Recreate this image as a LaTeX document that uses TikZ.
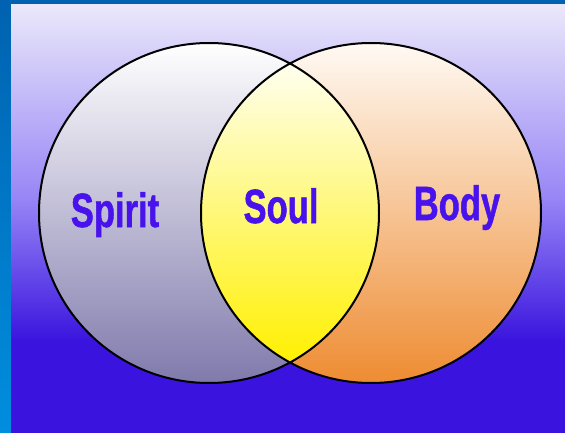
\documentclass[tikz,border=0pt]{standalone}
\usepackage{fontspec}
\setsansfont{Liberation Sans}[BoldFeatures={FakeBold=1.3}]
\usepackage{graphicx}
\usepackage{xcolor}
\usepackage{tikz}
\usetikzlibrary{positioning}
\definecolor{framedark}{RGB}{0,98,176}
\definecolor{framelight}{RGB}{0,142,222}
\definecolor{paletop}{RGB}{234,232,250}
\definecolor{midlilac}{RGB}{150,132,246}
\definecolor{deepblue}{RGB}{58,20,222}
\definecolor{spiritlow}{RGB}{128,122,172}
\definecolor{bodytop}{RGB}{255,250,244}
\definecolor{bodylow}{RGB}{238,140,50}
\definecolor{soultop}{RGB}{255,255,240}
\definecolor{soulmid}{RGB}{255,250,150}
\definecolor{soullow}{RGB}{255,240,0}
\definecolor{labelblue}{RGB}{72,18,236}

\begin{document}
\begin{tikzpicture}[x=1pt,y=-1pt,
lbl/.style={font=\sffamily\bfseries\fontsize{48}{48}\selectfont,text=labelblue,anchor=base,inner sep=0pt},
ring/.style={draw=black,line width=2pt}]
\useasboundingbox (0,0) rectangle (565,433);
% frame and backdrop
\shade[top color=framedark,bottom color=framelight] (0,0) rectangle (565,433);
\fill[framedark] (0,0) rectangle (565,5);
\shade[top color=paletop,bottom color=midlilac] (11,5) rectangle (565,201);
\shade[top color=midlilac,bottom color=deepblue] (11,200) rectangle (565,341);
\fill[deepblue] (11,340) rectangle (565,433);
% the two circles and the overlap
\coordinate (spiritc) at (209,213);
\coordinate (bodyc) at (371,213);
\shade[top color=white,bottom color=spiritlow] (spiritc) circle (170pt);
\shade[top color=bodytop,bottom color=bodylow] (bodyc) circle (170pt);
\begin{scope}
\clip (spiritc) circle (170pt);
\clip (bodyc) circle (170pt);
\shade[top color=soultop,middle color=soulmid,bottom color=soullow] (195,62) rectangle (385,364);
\end{scope}
\draw[ring] (spiritc) circle (170pt) (bodyc) circle (170pt);
% labels
\node[lbl] (spirit) at (115,227) {\scalebox{0.72}[1]{Spirit}};
\node[lbl] (soul) at (281,223) {\scalebox{0.72}[1]{Soul}};
\node[lbl] (body) at (457,220) {\scalebox{0.72}[1]{Body}};
\end{tikzpicture}
\end{document}
